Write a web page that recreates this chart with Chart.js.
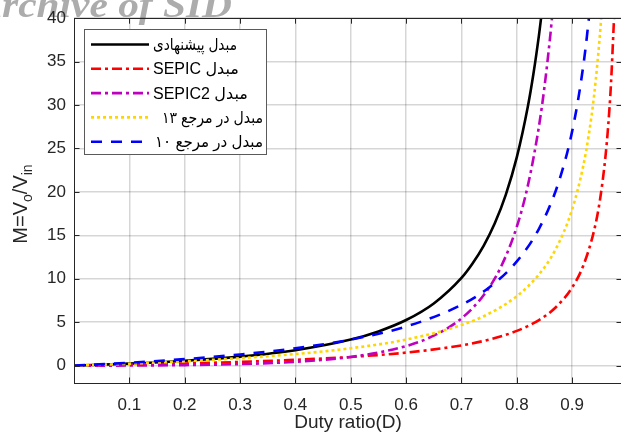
<!DOCTYPE html>
<html><head><meta charset="utf-8">
<script src="https://cdn.jsdelivr.net/npm/chart.js@4"></script>
<style>html,body{margin:0;padding:0;background:#fff;overflow:hidden;}#wrap{width:624px;height:441px;}</style>
</head><body><div id="wrap"><canvas id="c" width="624" height="441"></canvas></div>
<script>
// ---- data ----
const seriesLabels = ['مبدل پیشنهادی', 'مبدل SEPIC', 'مبدل SEPIC2', 'مبدل در مرجع ۱۳', 'مبدل در مرجع ۱۰'];

const dProposed = [0, 0.1, 0.2, 0.3, 0.4, 0.5, 0.55, 0.6, 0.65, 0.7, 0.72, 0.74, 0.76, 0.78, 0.8, 0.82, 0.83, 0.84, 0.8438];
const mProposed = [0, 0.23, 0.56, 1.04, 1.78, 3.0, 3.94, 5.25, 7.16, 10.1, 11.76, 13.79, 16.36, 19.66, 24.0, 29.86, 33.6, 38.06, 40];

const dSepic = [0, 0.1, 0.2, 0.3, 0.4, 0.5, 0.6, 0.7, 0.75, 0.8, 0.84, 0.87, 0.9, 0.92, 0.94, 0.95, 0.96, 0.965, 0.97, 0.9756];
const mSepic = [0, 0.11, 0.25, 0.43, 0.67, 1.0, 1.5, 2.33, 3.0, 4.0, 5.25, 6.69, 9.0, 11.5, 15.67, 19.0, 24.0, 27.57, 32.33, 40];

const dSepic2 = [0, 0.1, 0.2, 0.3, 0.4, 0.5, 0.6, 0.65, 0.7, 0.74, 0.77, 0.8, 0.82, 0.84, 0.85, 0.86, 0.8635];
const mSepic2 = [0, 0.01, 0.06, 0.18, 0.44, 1.0, 2.25, 3.45, 5.44, 8.1, 11.2, 16.0, 20.75, 27.56, 32.11, 37.73, 40];

const dRef13 = [0, 0.1, 0.2, 0.3, 0.4, 0.5, 0.6, 0.7, 0.75, 0.8, 0.84, 0.87, 0.9, 0.92, 0.93, 0.94, 0.95, 0.9524];
const mRef13 = [0, 0.22, 0.5, 0.86, 1.33, 2.0, 3.0, 4.67, 6.0, 8.0, 10.5, 13.38, 18.0, 23.0, 26.57, 31.33, 38.0, 40];

const dRef10 = [0, 0.1, 0.2, 0.3, 0.4, 0.5, 0.6, 0.7, 0.75, 0.8, 0.84, 0.87, 0.89, 0.9, 0.91, 0.92, 0.925, 0.9302];
const mRef10 = [0, 0.33, 0.75, 1.29, 2.0, 3.0, 4.5, 7.0, 9.0, 12.0, 15.75, 20.08, 24.27, 27.0, 30.33, 34.5, 37.0, 40];

const xTickValues = [0.1, 0.2, 0.3, 0.4, 0.5, 0.6, 0.7, 0.8, 0.9];
const yTickValues = [0, 5, 10, 15, 20, 25, 30, 35, 40];

// ---- styling ----
const TXT = '#262626';
const FONT = "'Liberation Sans', 'DejaVu Sans', Arial, sans-serif";
const styles = [
  {color: '#000000', dash: [], width: 2.6, order: 5},
  {color: '#ff0000', dash: [10, 4, 3, 4], width: 2.6, order: 4},
  {color: '#bf00bf', dash: [10, 4, 3, 4], width: 2.6, order: 3},
  {color: '#ffd700', dash: [3, 3], width: 2.6, order: 2},
  {color: '#0000ff', dash: [11, 9], width: 2.6, order: 1}
];
// legend text placement (left x, max width) per row
const legendText = [[153, 84], [153, 86], [153, 95], [162, 101], [155, 108]];
const xs = [dProposed, dSepic, dSepic2, dRef13, dRef10];
const ys = [mProposed, mSepic, mSepic2, mRef13, mRef10];

const datasets = seriesLabels.map((lab, i) => ({
  label: lab,
  data: xs[i].map((x, j) => ({x: x, y: ys[i][j]})),
  borderColor: styles[i].color,
  borderDash: styles[i].dash,
  borderWidth: styles[i].width,
  order: styles[i].order,
  pointRadius: 0,
  fill: false,
  cubicInterpolationMode: 'monotone',
  borderCapStyle: 'butt'
}));

const bgPlugin = {
  id: 'bg',
  beforeDraw(chart) {
    const ctx = chart.ctx;
    ctx.save();
    ctx.fillStyle = '#fff';
    ctx.fillRect(0, 0, chart.width, chart.height);
    // watermark
    ctx.translate(232, 17);
    ctx.scale(1.15, 1);
    ctx.font = "italic bold 36px 'Liberation Serif', 'DejaVu Serif', serif";
    ctx.fillStyle = '#acacac';
    ctx.textAlign = 'right';
    ctx.textBaseline = 'alphabetic';
    ctx.fillText('Archive of SID', 0, 0);
    ctx.restore();
  }
};

const framePlugin = {
  id: 'frame',
  afterDatasetsDraw(chart) {
    const {ctx, chartArea: a, scales} = chart;
    ctx.save();
    ctx.strokeStyle = TXT;
    ctx.lineWidth = 1;
    ctx.setLineDash([]);
    ctx.strokeRect(Math.round(a.left) + 0.5, Math.round(a.top) + 0.5, Math.round(a.right - a.left), Math.round(a.bottom - a.top));
    const tl = 5.5;
    ctx.beginPath();
    xTickValues.forEach(v => {
      const px = Math.round(scales.x.getPixelForValue(v)) + 0.5;
      ctx.moveTo(px, a.bottom); ctx.lineTo(px, a.bottom - tl);
      ctx.moveTo(px, a.top); ctx.lineTo(px, a.top + tl);
    });
    yTickValues.forEach(v => {
      const py = Math.round(scales.y.getPixelForValue(v)) + 0.5;
      ctx.moveTo(a.left, py); ctx.lineTo(a.left + tl, py);
      ctx.moveTo(a.right, py); ctx.lineTo(a.right - tl, py);
    });
    ctx.stroke();

    // y-axis title with subscripts
    ctx.translate(27, 204);
    ctx.rotate(-Math.PI / 2);
    ctx.fillStyle = TXT;
    ctx.textBaseline = 'alphabetic';
    ctx.textAlign = 'left';
    const big = '20px ' + FONT, small = '14px ' + FONT;
    const parts = [['M=V', big, 0], ['o', small, 5], ['/V', big, 0], ['in', small, 5]];
    let total = 0;
    parts.forEach(p => { ctx.font = p[1]; total += ctx.measureText(p[0]).width; });
    let x = -total / 2;
    parts.forEach(p => { ctx.font = p[1]; ctx.fillText(p[0], x, p[2]); x += ctx.measureText(p[0]).width; });
    ctx.restore();
  }
};

const legendPlugin = {
  id: 'mylegend',
  afterDraw(chart) {
    const ctx = chart.ctx;
    const bx = 84.5, by = 29.5, bw = 182, bh = 125;
    ctx.save();
    ctx.fillStyle = '#fff';
    ctx.fillRect(bx, by, bw, bh);
    ctx.strokeStyle = '#5a5a5a';
    ctx.lineWidth = 1;
    ctx.strokeRect(bx, by, bw, bh);
    chart.data.datasets.forEach((ds, i) => {
      const yy = 44.5 + i * 24.3;
      ctx.beginPath();
      ctx.setLineDash(ds.borderDash);
      ctx.strokeStyle = ds.borderColor;
      ctx.lineWidth = ds.borderWidth;
      ctx.lineCap = 'butt';
      ctx.moveTo(91, yy); ctx.lineTo(149, yy);
      ctx.stroke();
      ctx.setLineDash([]);
      ctx.direction = 'rtl';
      ctx.textAlign = 'left';
      ctx.textBaseline = 'middle';
      ctx.font = '16px ' + FONT;
      ctx.fillStyle = '#000';
      ctx.fillText(ds.label, legendText[i][0], yy + 1, legendText[i][1]);
    });
    ctx.restore();
  }
};

new Chart(document.getElementById('c'), {
  type: 'line',
  data: {datasets: datasets},
  options: {
    responsive: false,
    animation: false,
    devicePixelRatio: 1,
    layout: {padding: {left: 0, top: 17, right: 2, bottom: 0}},
    plugins: {legend: {display: false}, tooltip: {enabled: false}},
    scales: {
      x: {
        type: 'linear', min: 0, max: 0.99,
        afterBuildTicks: s => { s.ticks = xTickValues.map(v => ({value: v})); },
        afterFit: s => { s.height = 58; },
        border: {display: false},
        grid: {color: 'rgba(0,0,0,0.16)', lineWidth: 1.5, drawTicks: false},
        ticks: {font: {size: 17, family: FONT}, color: TXT, padding: 12, maxRotation: 0, autoSkip: false,
                callback: v => v.toFixed(1)},
        title: {display: true, text: 'Duty ratio(D)', color: TXT, font: {size: 19, family: FONT}, padding: {top: 0, bottom: 7}}
      },
      y: {
        type: 'linear', min: -2, max: 40,
        afterBuildTicks: s => { s.ticks = yTickValues.map(v => ({value: v})); },
        afterFit: s => { s.width = 74; },
        border: {display: false},
        grid: {color: 'rgba(0,0,0,0.16)', lineWidth: 1.5, drawTicks: false},
        ticks: {font: {size: 17, family: FONT}, color: TXT, padding: 8, autoSkip: false}
      }
    }
  },
  plugins: [bgPlugin, framePlugin, legendPlugin]
});
</script></body></html>
